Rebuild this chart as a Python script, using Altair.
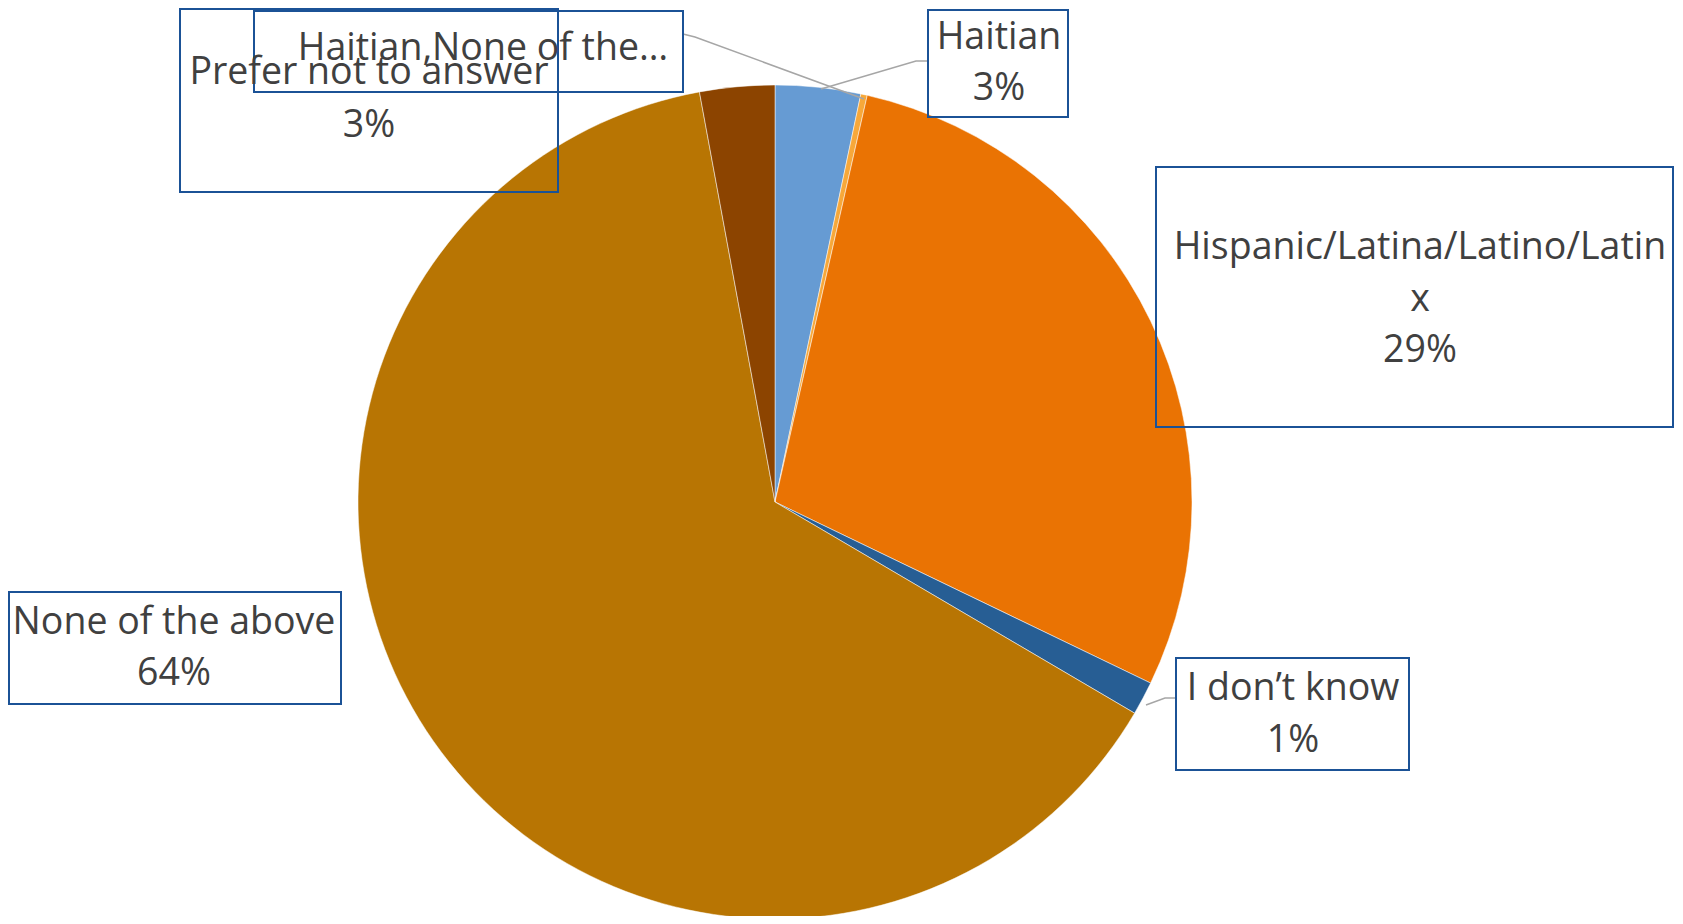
import altair as alt
import pandas as pd

# ---- data ----
categories = ["Haitian", "Haitian,None of the…", "Hispanic/Latina/Latino/Latinx",
              "I don’t know", "None of the above", "Prefer not to answer"]
values = [3.3, 0.25, 28.6, 1.3, 63.65, 2.9]
colors = ["#669BD3", "#F7A83A", "#EA7303", "#275E94", "#B87503", "#8C4400"]

# ---- layout (chart pixel coords, page margin removed) ----
W, H = 1667, 908
CX, CY, R = 767, 494, 417
# label boxes: x0, y0, x1, y1
boxes = [
    (920, 2, 1060, 109),
    (246, 3, 675, 84),
    (1148, 159, 1665, 419),
    (1168, 650, 1401, 762),
    (1, 584, 333, 696),
    (172, 1, 550, 184),
]
# text lines per label: (text, x, y)
label_lines = [
    [(categories[0], 991, 30), (f"{round(values[0])}%", 991, 81)],
    [(categories[1], 475, 41)],
    [("Hispanic/Latina/Latino/Latin", 1412, 240), ("x", 1412, 292), (f"{round(values[2])}%", 1412, 343)],
    [(categories[3], 1285, 681), (f"{round(values[3])}%", 1285, 733)],
    [(categories[4], 166, 615), (f"{round(values[4])}%", 166, 666)],
    [(categories[5], 361, 65), (f"{round(values[5])}%", 361, 118)],
]
leaders = [
    [(920, 53), (908, 53), (813, 81)],
    [(675, 26), (687, 29), (856, 91)],
    [(1168, 690), (1157, 690), (1138, 697)],
]

pie_df = pd.DataFrame({"cat": categories, "val": values, "idx": list(range(len(values)))})

pie = alt.Chart(pie_df).mark_arc(radius=R, stroke="white", strokeWidth=0.5).encode(
    theta=alt.Theta("val:Q", stack=True),
    order=alt.Order("idx:Q"),
    color=alt.Color("cat:N", scale=alt.Scale(domain=categories, range=colors), legend=None),
    x=alt.value(CX),
    y=alt.value(CY),
)

lead_rows = []
for i, pts in enumerate(leaders):
    for j, (px, py) in enumerate(pts):
        lead_rows.append({"g": i, "o": j, "px": px, "py": py})
lead = alt.Chart(pd.DataFrame(lead_rows)).mark_line(color="#A6A6A6", strokeWidth=1.5).encode(
    x=alt.X("px:Q", scale=None, axis=None),
    y=alt.Y("py:Q", scale=None, axis=None),
    detail="g:N",
    order="o:Q",
)

box_df = pd.DataFrame([{"x0": b[0], "y0": b[1], "x1": b[2], "y1": b[3]} for b in boxes])
box = alt.Chart(box_df).mark_rect(fill=None, stroke="#1B5296", strokeWidth=2).encode(
    x=alt.X("x0:Q", scale=None, axis=None), x2="x1:Q",
    y=alt.Y("y0:Q", scale=None, axis=None), y2="y1:Q",
)

txt_rows = []
for lines in label_lines:
    for t, tx, ty in lines:
        txt_rows.append({"t": t, "tx": tx, "ty": ty})
txt = alt.Chart(pd.DataFrame(txt_rows)).mark_text(
    font="Open Sans", fontSize=37.5, color="#404040", align="center", baseline="middle"
).encode(
    x=alt.X("tx:Q", scale=None, axis=None),
    y=alt.Y("ty:Q", scale=None, axis=None),
    text="t:N",
)

chart = alt.layer(pie, lead, box, txt).properties(
    width=W, height=H, padding=0,
    autosize=alt.AutoSizeParams(type="none"),
).configure(background="white").configure_view(stroke=None)

chart.save("out.html", embed_options={"renderer": "svg", "actions": False})
